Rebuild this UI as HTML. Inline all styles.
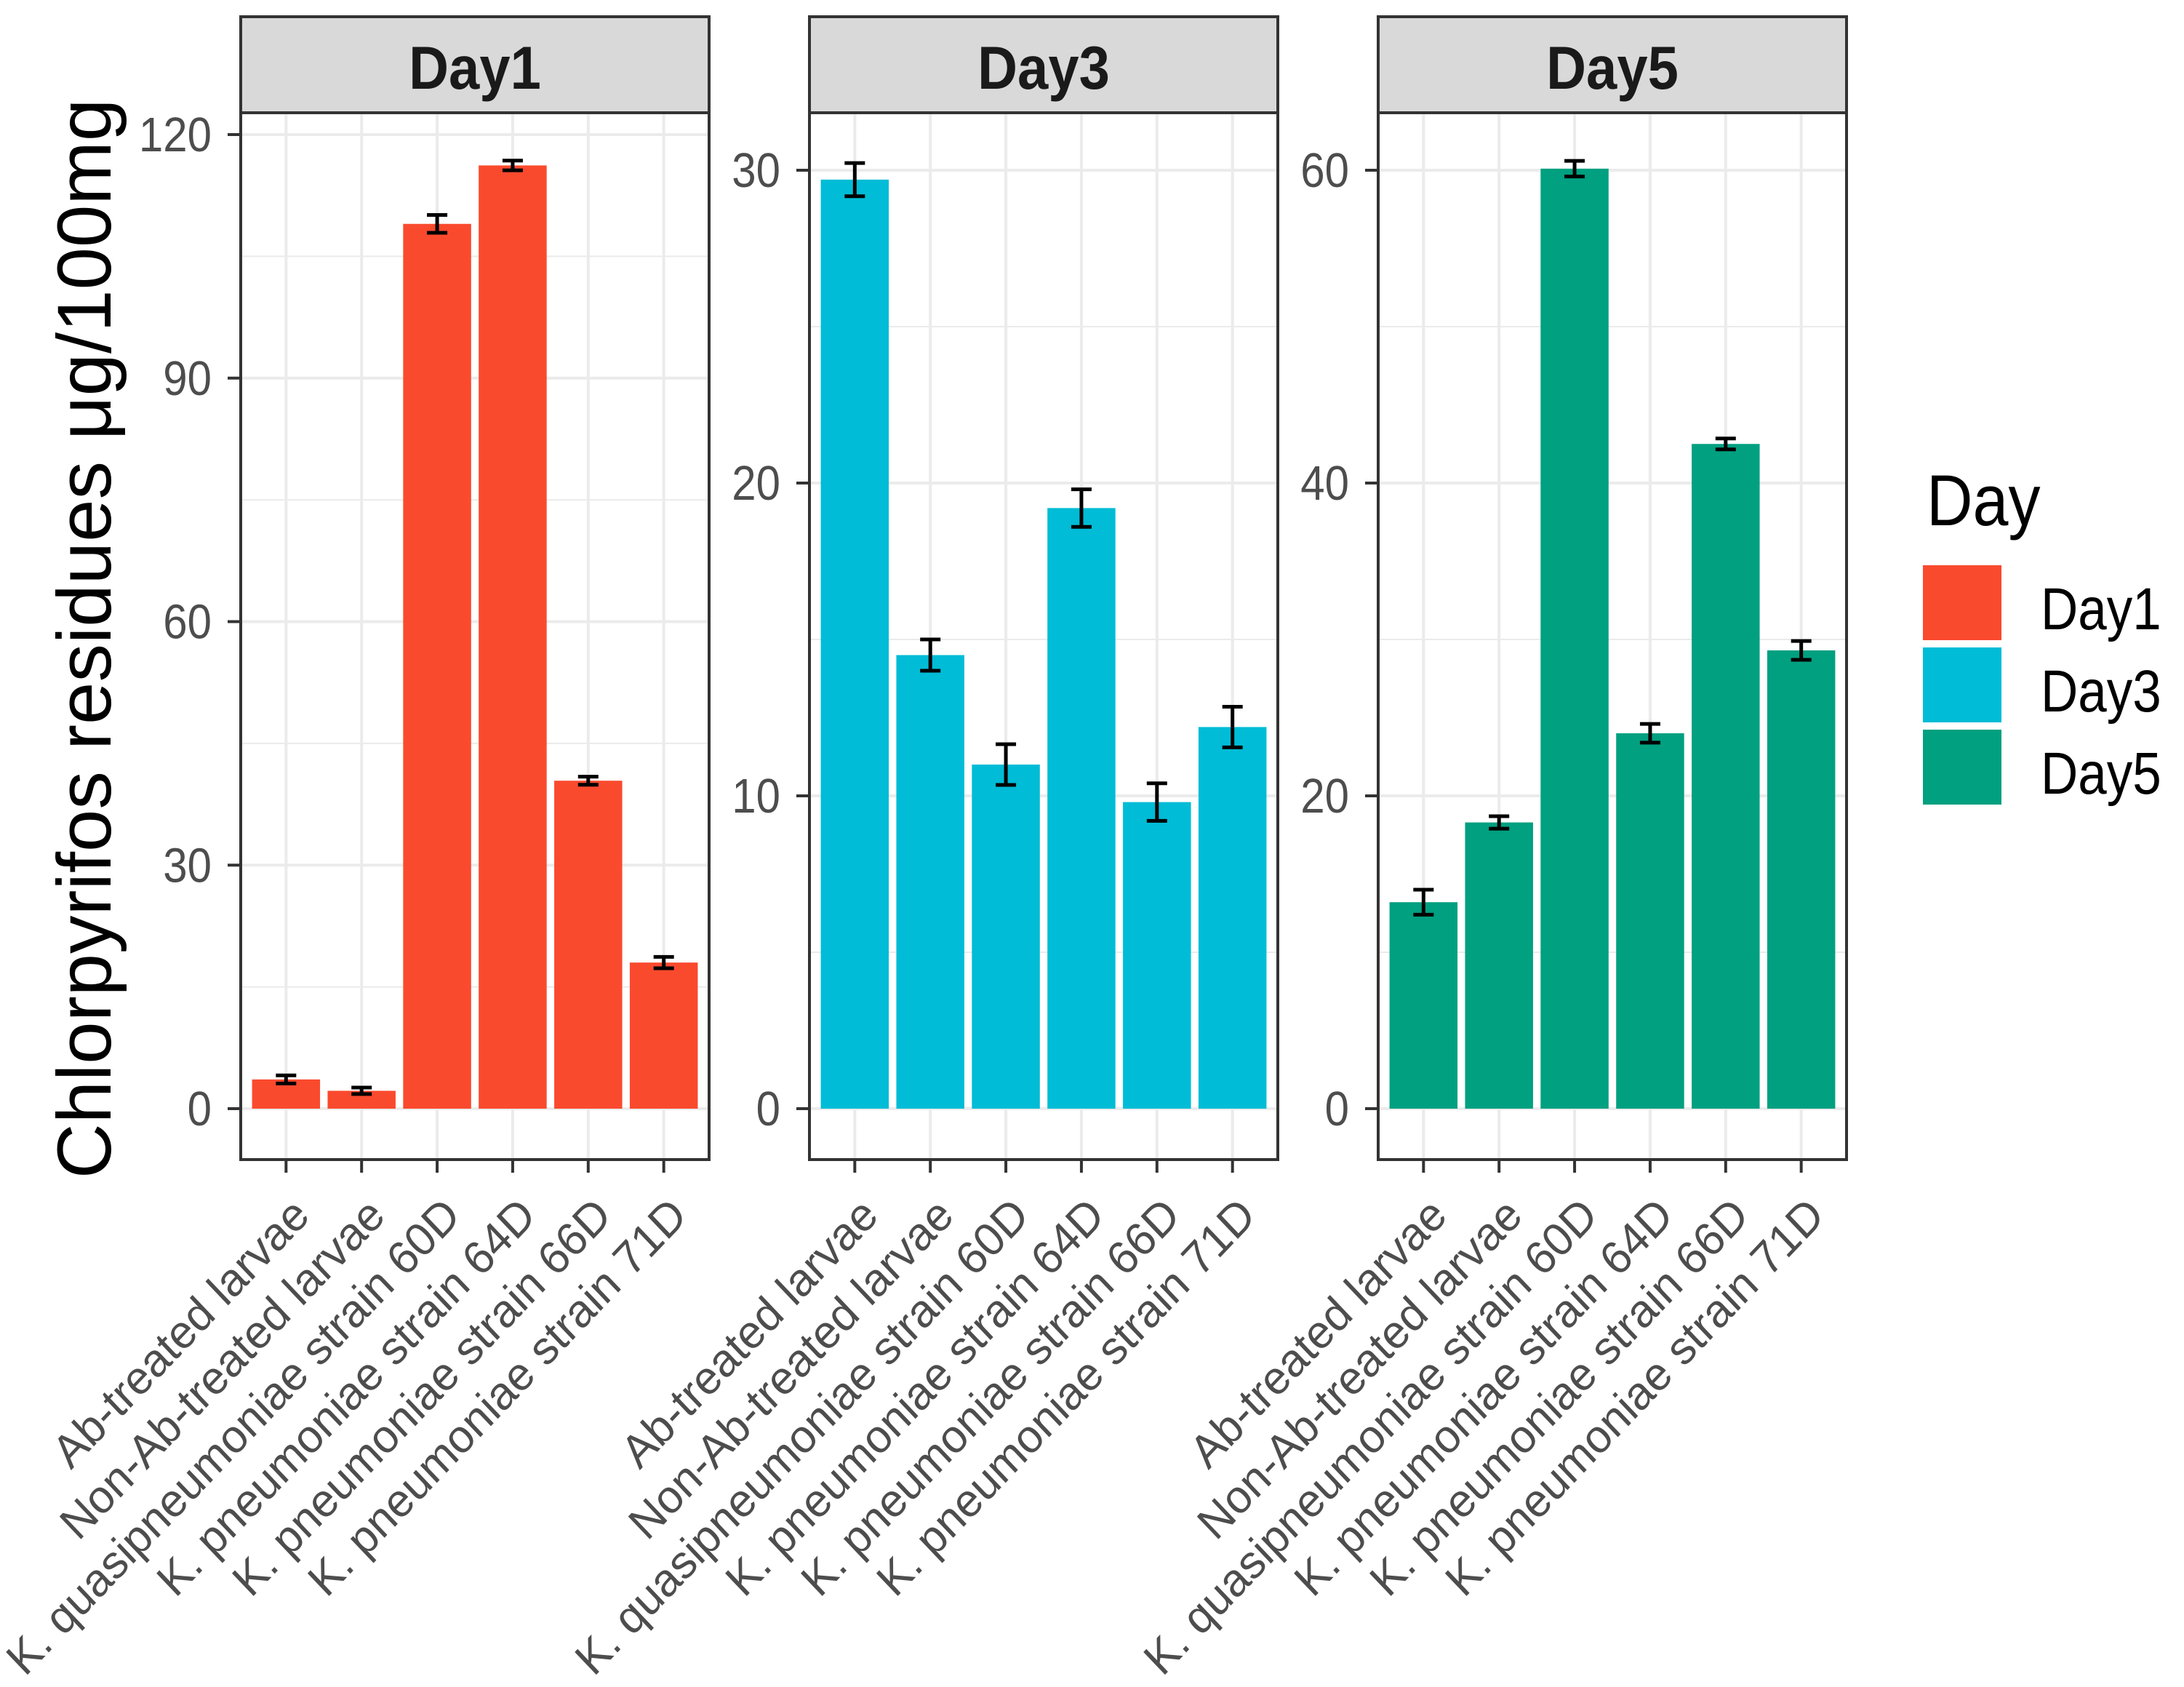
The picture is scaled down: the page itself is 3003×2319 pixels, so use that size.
<!DOCTYPE html>
<html><head><meta charset="utf-8"><style>
html,body{margin:0;padding:0;background:#fff;}
svg{display:block;font-family:"Liberation Sans",Arial,sans-serif;}
</style></head><body>
<svg id="chart" width="3003" height="2319" viewBox="0 0 3003 2319" xmlns="http://www.w3.org/2000/svg">
<rect width="3003" height="2319" fill="#fff"/>
<text transform="translate(152,878) rotate(-90)" text-anchor="middle" font-size="105" fill="#000">Chlorpyrifos residues μg/100mg</text>
<g id="panels"></g>
<g>
<text transform="translate(2649,722) scale(1,1.13)" font-size="88" fill="#000">Day</text>
<rect x="2644" y="777" width="108" height="103" fill="#fa4a2e"/>
<rect x="2644" y="890" width="108" height="103" fill="#00bcd6"/>
<rect x="2644" y="1003" width="108" height="103" fill="#00a080"/>
<text transform="translate(2806,865) scale(1,1.15)" font-size="71" fill="#000">Day1</text>
<text transform="translate(2806,978) scale(1,1.15)" font-size="71" fill="#000">Day3</text>
<text transform="translate(2806,1091) scale(1,1.15)" font-size="71" fill="#000">Day5</text>
</g>
</svg>
<script>
const categories = ["Ab-treated larvae","Non-Ab-treated larvae","K. quasipneumoniae strain 60D","K. pneumoniae strain 64D","K. pneumoniae strain 66D","K. pneumoniae strain 71D"];
const panelNames = ["Day1","Day3","Day5"];
const day1Values = [3.6, 2.2, 109, 116.2, 40.4, 18.0];
const day1Errors = [0.5, 0.4, 1.1, 0.6, 0.5, 0.7];
const day3Values = [29.7, 14.5, 11.0, 19.2, 9.8, 12.2];
const day3Errors = [0.53, 0.5, 0.65, 0.6, 0.6, 0.65];
const day5Values = [13.2, 18.3, 60.1, 24.0, 42.5, 29.3];
const day5Errors = [0.8, 0.4, 0.5, 0.6, 0.35, 0.6];
const day1Ticks = [0, 30, 60, 90, 120];
const day3Ticks = [0, 10, 20, 30];
const day5Ticks = [0, 20, 40, 60];
const day1Max = 120, day3Max = 30, day5Max = 60;

const NS = "http://www.w3.org/2000/svg";
const root = document.getElementById('panels');
function mk(tag, attrs, parent){
  const e = document.createElementNS(NS, tag);
  for (const k in attrs) e.setAttribute(k, attrs[k]);
  (parent||root).appendChild(e);
  return e;
}
const panels = [
  {left:331, vals:day1Values, errs:day1Errors, ticks:day1Ticks, max:day1Max, color:"#fa4a2e"},
  {left:1113, vals:day3Values, errs:day3Errors, ticks:day3Ticks, max:day3Max, color:"#00bcd6"},
  {left:1895, vals:day5Values, errs:day5Errors, ticks:day5Ticks, max:day5Max, color:"#00a080"}
];
const W = 644, TOP = 155, BOT = 1594, Y0 = 1524, YMAXPX = 234;
panels.forEach((p, pi) => {
  const g = mk('g', {});
  
  
  const yScale = v => Y0 - v * (Y0 - (pi === 0 ? 185 : YMAXPX)) / p.max;
  const step = W / 6.2;
  const xScale = i => p.left + (i + 0.6) * step;
  const tstep = p.ticks[1] - p.ticks[0];
  for (let t = -tstep / 2; t <= p.max + tstep; t += tstep / 2) {
    const y = yScale(t);
    if (y < TOP || y > BOT) continue;
    const isMajor = Math.abs((t / tstep) - Math.round(t / tstep)) < 1e-6;
    const l = mk('line', {x1:p.left, x2:p.left+W, y1:y, y2:y, stroke:"#ebebeb", 'stroke-width': isMajor ? 4 : 2}, g);
    
    
  }
  categories.forEach((c, i) => {
    const l = mk('line', {x1:xScale(i), x2:xScale(i), y1:TOP, y2:BOT, stroke:"#ebebeb", 'stroke-width':4}, g);
    
    
  });
  p.vals.forEach((v, i) => {
    const bw = step * 0.9;
    const r = mk('rect', {x:xScale(i) - bw/2, y:yScale(v), width:bw, height:Y0 - yScale(v), fill:p.color}, g);
    
    
    const e = p.errs[i];
    const cx = xScale(i), yt = yScale(v + e), yb = yScale(v - e);
    const eg = mk('path', {d:`M${cx-14},${yt}H${cx+14}M${cx},${yt}V${yb}M${cx-14},${yb}H${cx+14}`, stroke:"#000", 'stroke-width':5, fill:"none"}, g);
    
    
  });
  const b = mk('rect', {x:p.left, y:TOP, width:W, height:BOT-TOP, fill:"none", stroke:"#333", 'stroke-width':4}, g);
  
  
  const s = mk('rect', {x:p.left, y:23, width:W, height:TOP-23, fill:"#d9d9d9", stroke:"#333", 'stroke-width':4}, g);
  
  
  const st = mk('text', {transform:`translate(${p.left+W/2},122) scale(1,1.1)`, 'text-anchor':'middle', 'font-size':76, 'font-weight':'bold', fill:"#1a1a1a"}, g);
  st.textContent = panelNames[pi];
  
  
  p.ticks.forEach(t => {
    const y = yScale(t);
    const tl = mk('line', {x1:p.left-18, x2:p.left, y1:y, y2:y, stroke:"#333", 'stroke-width':4}, g);
    
    
    const tx = mk('text', {transform:`translate(${p.left-40},${y+23}) scale(1,1.12)`, 'text-anchor':'end', 'font-size':60, fill:"#4d4d4d"}, g);
    tx.textContent = t;
    
    
  });
  categories.forEach((c, i) => {
    const x = xScale(i);
    const tl = mk('line', {x1:x, x2:x, y1:BOT, y2:BOT+18, stroke:"#333", 'stroke-width':4}, g);
    
    
    const tx = mk('text', {transform:`translate(${x+35},${BOT+80}) scale(1,1.05) rotate(-45)`, 'text-anchor':'end', 'font-size':61, fill:"#4d4d4d"}, g);
    tx.textContent = c;
    
    
  });
});
</script>
</body></html>
